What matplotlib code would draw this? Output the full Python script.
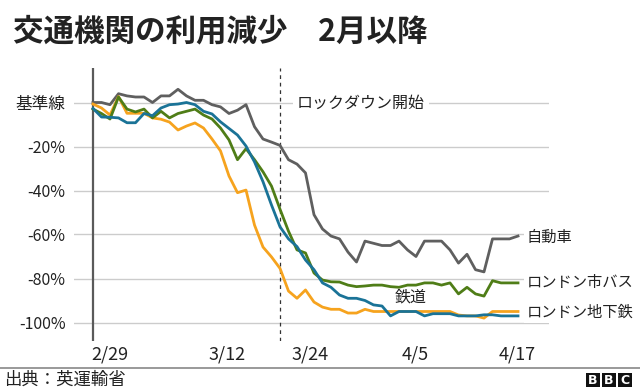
import matplotlib
matplotlib.use("Agg")
import matplotlib.pyplot as plt
from matplotlib.patches import Rectangle

plt.rcParams['font.family'] = ['Noto Sans CJK JP', 'DejaVu Sans']

# ---- data (day index 0 = 3/1) ----
days = list(range(51))
car = [0, 0, -1, 4, 3, 2.5, 2.5, 0, 3, 3, 6, 3, 1, 1, -1, -2, -5, -3.5, -1, -11,
       -16.6, -18, -19.5, -26, -28, -32, -51, -57.5, -60.7, -62, -68, -72.5, -63, -64, -65, -65,
       -63, -67, -70, -63, -63, -63, -67, -73, -69, -76, -77, -62, -62, -62, -60.7]
bus = [-3, -5, -7.5, 2.5, -3, -4.3, -3, -7, -4, -7, -5, -4, -3, -5.7, -7.5, -11.6, -17, -26, -21, -26,
       -31.5, -38, -48.5, -58.5, -67, -68.4, -77.5, -80.7, -81.5, -81.6, -83, -83.7, -83.4, -83, -83, -83.7,
       -84, -83, -83, -82, -82, -83, -82, -87, -84, -87, -88, -81, -82, -82, -82]
rail = [-2.7, -6.6, -6.7, -7, -9.2, -9.2, -5, -6, -2.5, -1, -0.7, 0, -1, -4, -5.2, -8.8, -11.8, -14.8, -19.8, -27,
        -36, -46.6, -56.5, -62, -65.5, -71.6, -76, -82, -84, -87.5, -89, -89, -90, -92, -92.5, -97,
        -95, -95, -95, -97, -96, -96, -96, -97, -97, -97, -96.5, -96.5, -97, -97, -97]
tube = [-0.7, -2.5, -5.7, 2.7, -4.9, -4.9, -4.9, -7, -7.6, -8.9, -12.5, -10.7, -9.3, -11.6, -16.6, -22, -33.4, -41, -39.8, -55.7,
        -65.7, -70.2, -75.4, -85.7, -89, -85.2, -90.7, -93, -94, -94, -95.7, -95.7, -94, -95, -95, -95,
        -95, -95, -95, -95, -95, -95, -95, -96.6, -97, -97, -98, -95, -95, -95, -95]

series_names = ['自動車', 'ロンドン市バス', '鉄道', 'ロンドン地下鉄']
yticks = [0, -20, -40, -60, -80, -100]
ytick_labels = ['基準線', '-20%', '-40%', '-60%', '-80%', '-100%']
xtick_labels = ['2/29', '3/12', '3/24', '4/5', '4/17']
xtick_pos = [2.0, 15.8, 25.5, 37.9, 49.9]
lockdown_day = 22
lockdown_label = 'ロックダウン開始'

GREY = '#5f5f5f'
GREEN = '#4f7d17'
BLUE = '#1a7397'
ORANGE = '#f6a31e'
TXT = '#222222'

fig = plt.figure(figsize=(6.4, 3.89), dpi=100)
W, H = 640, 389
left_px, right_px, top_px, bot_px = 74, 549, 68, 341
ax = fig.add_axes([left_px / W, 1 - bot_px / H, (right_px - left_px) / W, (bot_px - top_px) / H])

px_per_day = 8.5
x0_px = 93
ax.set_xlim((left_px - x0_px) / px_per_day, (right_px - x0_px) / px_per_day)
px_per_pct = 2.2
y0_px = 102.5
ax.set_ylim(-(bot_px - y0_px) / px_per_pct, (y0_px - top_px) / px_per_pct)

for y in yticks:
    ax.axhline(y, color='#cccccc', lw=1.0, zorder=1)

ax.axvline(0, color='#5a5a5a', lw=1.6, zorder=2)
ax.axvline(lockdown_day, color='#333333', lw=0.9, ls=(0, (3, 3)), zorder=2)

lw = 2.0
ax.plot(days, car, color=GREY, lw=lw, zorder=3)
ax.plot(days, tube, color=ORANGE, lw=lw, zorder=3)
ax.plot(days, bus, color=GREEN, lw=lw, zorder=4)
ax.plot(days, rail, color=BLUE, lw=lw, zorder=5)

for s in ax.spines.values():
    s.set_visible(False)

ax.set_yticks(yticks)
ax.set_yticklabels(ytick_labels)
ax.tick_params(axis='y', length=0, pad=6, labelsize=11.5, labelcolor=TXT)
ax.get_yticklabels()[0].set_fontsize(12)
ax.set_xticks(xtick_pos)
ax.set_xticklabels(xtick_labels)
ax.tick_params(axis='x', length=0, pad=3, labelsize=13, labelcolor=TXT)

bb = dict(facecolor='white', edgecolor='none', pad=1.5)
ax.text(51.0, car[-1] - 0.5, series_names[0], fontsize=11, color=TXT, va='center', ha='left', bbox=bb, zorder=6)
ax.text(51.0, bus[-1], series_names[1], fontsize=11, color=TXT, va='center', ha='left', bbox=bb, zorder=6)
ax.text(51.0, tube[-1] - 0.3, series_names[3], fontsize=11, color=TXT, va='center', ha='left', bbox=bb, zorder=6)
ax.text(35.5, -88.4, series_names[2], fontsize=11.5, color=TXT, va='center', ha='left', zorder=6)
ax.text(24.0, -0.2, lockdown_label, fontsize=11.5, color=TXT, va='center', ha='left',
        bbox=dict(facecolor='white', edgecolor='none', pad=3), zorder=6)

# title
fig.text(13 / W, 1 - 31 / H, '交通機関の利用減少　2月以降', fontsize=22, fontweight='bold',
         color=TXT, va='center', ha='left')

# footer
fig.add_artist(plt.Line2D([0, 1], [1 - 368 / H, 1 - 368 / H], color='#888888', lw=1.2))
fig.text(4 / W, 1 - 380 / H, '出典：英運輸省', fontsize=12.5, color=TXT, va='center', ha='left')
for i, ch in enumerate(['B', 'B', 'C']):
    x = 586 + i * 16
    fig.add_artist(Rectangle((x / W, 1 - 387 / H), 14 / W, 14 / H, transform=fig.transFigure,
                             facecolor='#111111', edgecolor='none'))
    fig.text((x + 7) / W, 1 - 380 / H, ch, fontsize=9, fontweight='bold', color='white',
             ha='center', va='center', family='DejaVu Sans')

fig.savefig('out.png', dpi=100)
